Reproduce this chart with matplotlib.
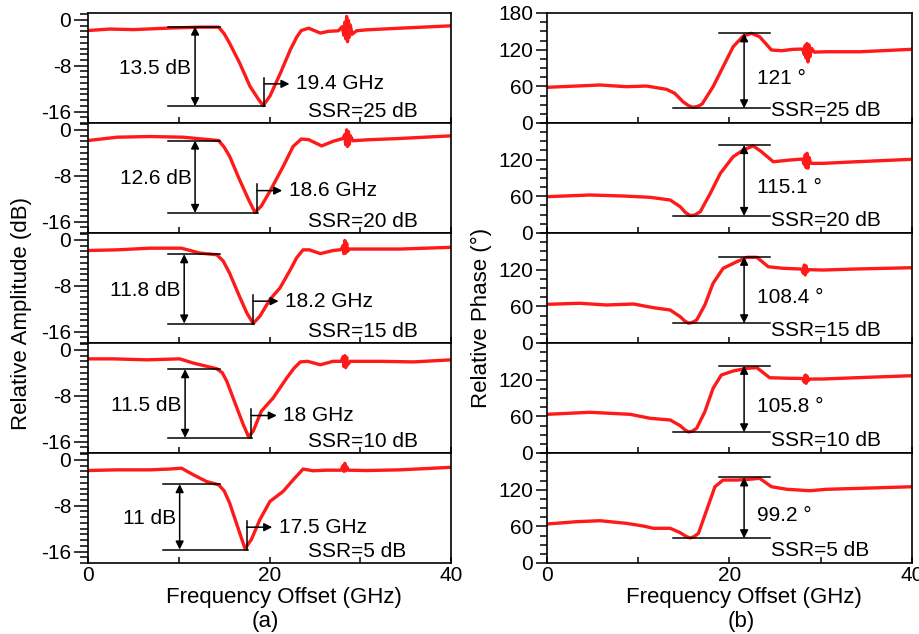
import matplotlib
matplotlib.use("Agg")
import matplotlib.pyplot as plt
from matplotlib.ticker import MultipleLocator

plt.rcParams["font.family"] = ["Liberation Sans", "DejaVu Sans"]
plt.rcParams["font.size"] = 15
plt.rcParams["axes.unicode_minus"] = False

ssr_db = [25, 20, 15, 10, 5]

# (a) relative amplitude traces (GHz, dB)
amp25_f = [0, 2.4, 5, 8.7, 12.3, 14.4, 15.0, 15.6, 16.7, 17.85, 18.8, 19.3, 20.05, 21.2, 22.3, 23.0, 23.5, 24.3,
           25.6, 26.5, 27.6, 28.0, 28.2, 28.3, 28.4, 28.5, 28.6, 28.7, 28.8, 28.9, 29.1, 29.6, 30.7, 34.4, 40]
amp25_db = [-1.86, -1.6, -1.7, -1.45, -1.27, -1.27, -2.4, -4.06, -7.5, -11.6, -13.9, -14.96, -13.3, -9.3, -5.2,
            -3.0, -1.86, -1.45, -2.3, -2.0, -1.9, -1.2, -2.7, -0.4, -3.3, 0.6, -3.8, -0.1, -3.0, -0.9, -2.5, -1.9,
            -1.74, -1.45, -1.04]
amp20_f = [0, 3.2, 6.8, 10.5, 14.4, 15.0, 15.6, 16.7, 17.7, 18.4, 19.1, 20.05, 21.5, 22.6, 23.5, 24.3, 25.75, 27.0,
           28.1, 28.3, 28.4, 28.5, 28.6, 28.7, 28.8, 28.9, 29.2, 30.7, 34.4, 40]
amp20_db = [-1.86, -1.28, -1.16, -1.28, -1.86, -3.0, -4.6, -8.7, -12.2, -14.4, -13.3, -10.7, -6.4, -2.9, -1.6,
            -1.7, -2.8, -2.0, -1.5, -0.8, -2.6, 0.0, -2.9, -0.3, -2.5, -1.0, -1.9, -1.74, -1.5, -1.04]
amp15_f = [0, 3.2, 6.8, 10.3, 12.3, 14.2, 14.9, 15.6, 16.7, 17.5, 18.2, 18.95, 20.05, 21.15, 22.3, 23.0, 23.7, 24.4,
           25.6, 27.0, 27.9, 28.1, 28.2, 28.3, 28.4, 28.5, 28.6, 28.8, 30.7, 34.4, 40]
amp15_db = [-1.86, -1.74, -1.45, -1.45, -2.3, -2.6, -3.7, -5.8, -9.9, -12.75, -14.6, -13.3, -10.4, -8.4, -5.2,
            -3.1, -1.74, -1.74, -2.4, -1.86, -1.7, -1.0, -2.4, -0.1, -2.3, -0.6, -2.0, -1.6, -1.6, -1.6, -1.3]
amp10_f = [0, 2.8, 6.5, 10.1, 11.6, 14.2, 14.8, 15.3, 16.4, 17.1, 17.7, 18.2, 19.1, 20.4, 21.9, 22.7, 23.4, 24.2,
           25.6, 27.0, 27.9, 28.1, 28.2, 28.3, 28.4, 28.5, 28.6, 28.9, 32.2, 35.9, 40]
amp10_db = [-1.57, -1.57, -1.74, -1.57, -2.3, -3.3, -4.0, -5.5, -10.1, -13.0, -15.2, -14.2, -10.7, -8.4, -4.9,
            -3.2, -2.1, -2.0, -2.6, -2.0, -2.0, -1.2, -2.9, -1.0, -3.1, -1.3, -2.6, -2.0, -2.0, -2.1, -1.74]
amp5_f = [0, 3.2, 6.8, 9.0, 10.3, 11.6, 13.1, 14.4, 15.0, 15.6, 16.6, 17.3, 18.0, 18.95, 20.05, 21.5, 22.6, 23.7,
          24.8, 26.3, 27.9, 28.1, 28.2, 28.3, 28.4, 28.5, 28.7, 30.7, 34.4, 40]
amp5_db = [-1.86, -1.74, -1.74, -1.6, -1.45, -2.6, -3.8, -4.35, -5.4, -7.5, -12.2, -15.5, -13.9, -10.4, -7.25,
           -5.5, -3.5, -1.6, -1.9, -1.8, -1.8, -1.0, -2.0, -0.6, -1.9, -1.2, -1.8, -1.86, -1.74, -1.3]

# (b) relative phase traces (GHz, degree)
ph25_f = [0, 3.25, 5.8, 8.7, 10.9, 13.1, 14.0, 14.9, 15.5, 16.0, 16.5, 17.0, 18.2, 19.3, 20.4, 21.5, 22.4, 23.3,
          24.6, 25.7, 27.0, 28.0, 28.2, 28.3, 28.4, 28.5, 28.6, 28.7, 28.8, 29.0, 29.3, 30.65, 34.3, 40]
ph25_deg = [58.4, 60.5, 62.2, 59.4, 60.5, 55.1, 48.6, 34.9, 28.5, 25.7, 27, 31.1, 59.4, 92.1, 124.8, 142.3, 146.8,
            141.2, 119.4, 118.3, 120.6, 121, 112, 127, 106, 130, 100, 128, 108, 122, 116, 116.6, 116.6, 120.6]
ph20_f = [0, 4.7, 8.4, 11.3, 13.5, 14.6, 15.2, 15.7, 16.2, 16.8, 17.9, 19.0, 20.4, 21.5, 22.6, 23.5, 24.8, 26.6,
          28.0, 28.2, 28.3, 28.4, 28.5, 28.6, 28.7, 28.9, 30.3, 33.9, 40]
ph20_deg = [59.4, 62.2, 60.5, 58.4, 54, 43, 33, 28.5, 29.5, 34.9, 65, 97.7, 124.8, 135.8, 142.5, 133, 116.6, 119.4,
            121, 112, 128, 107, 130.4, 106, 124, 114, 114, 116.6, 120.6]
ph15_f = [0, 3.6, 6.5, 9.5, 11.65, 13.5, 14.6, 15.1, 15.5, 15.9, 16.4, 17.3, 18.2, 19.3, 20.8, 21.9, 23.0, 24.25,
          25.9, 27.9, 28.1, 28.2, 28.3, 28.4, 28.5, 28.7, 30.3, 33.9, 40]
ph15_deg = [63.3, 65, 62.2, 63.8, 57.8, 54, 43, 36, 32.5, 33.5, 37.6, 62.2, 97.7, 122.2, 133, 140.2, 140.2, 124.8,
            122.2, 121, 114, 127.6, 111.3, 126, 116, 120, 119.4, 121.1, 123.2]
ph10_f = [0, 4.7, 9.1, 11.3, 13.5, 14.6, 15.1, 15.5, 15.9, 16.4, 17.3, 18.2, 19.1, 20.4, 21.9, 23.0, 24.4, 26.6,
          28.0, 28.2, 28.3, 28.4, 28.5, 28.6, 28.8, 30.3, 33.9, 40]
ph10_deg = [63.3, 66.6, 63.3, 56.8, 54, 44.7, 38, 34.5, 35.5, 40.4, 67.6, 105.8, 127.6, 134.2, 138.6, 139.6,
            123.2, 122.2, 122, 116, 127.6, 114, 126, 118, 121, 121.1, 123.2, 126.5]
ph5_f = [0, 3.25, 5.8, 8.7, 10.55, 11.65, 13.5, 14.6, 15.3, 15.7, 16.1, 16.6, 17.5, 18.4, 19.3, 20.8, 22.2, 23.3,
         24.6, 26.3, 28.8, 30.65, 34.3, 40]
ph5_deg = [63.8, 67.6, 69.2, 64.9, 60.5, 56.8, 56.8, 49.6, 43, 41, 43, 48.6, 86.7, 124.8, 135.8, 135.8, 137,
           138.6, 124.8, 120.6, 118.3, 120.6, 122.2, 124.8]

# annotations
notch_depth = ["13.5 dB", "12.6 dB", "11.8 dB", "11.5 dB", "11 dB"]
notch_ghz = [19.4, 18.6, 18.2, 18.0, 17.5]
amp_top = [-1.16, -1.86, -2.5, -3.36, -4.23]
amp_bottom = [-15.07, -14.5, -14.6, -15.36, -15.65]
phase_shift = [121, 115.1, 108.4, 105.8, 99.2]
phase_top = [146.8, 144, 141.2, 142.8, 140.2]
phase_bottom = [24.0, 27.8, 32.2, 33.8, 40.4]

amp_f = [amp25_f, amp20_f, amp15_f, amp10_f, amp5_f]
amp_db = [amp25_db, amp20_db, amp15_db, amp10_db, amp5_db]
ph_f = [ph25_f, ph20_f, ph15_f, ph10_f, ph5_f]
ph_deg = [ph25_deg, ph20_deg, ph15_deg, ph10_deg, ph5_deg]

# layout (pixels)
W, H = 920, 634
arrow_x = [11.8, 11.8, 10.6, 10.7, 10.1]
line_x0 = [8.85, 8.85, 8.85, 8.85, 8.3]

fig = plt.figure(figsize=(9.2, 6.34), dpi=100)


def add_px_axes(x0, y0, x1, y1):
    return fig.add_axes([x0 / W, 1 - y1 / H, (x1 - x0) / W, (y1 - y0) / H])


def style(ax, last):
    for s in ax.spines.values():
        s.set_linewidth(1.2)
    ax.set_xlim(0, 40)
    ax.set_xticks([0, 20, 40])
    ax.xaxis.set_minor_locator(MultipleLocator(10))
    ax.tick_params(axis="x", which="both", direction="in", length=4, width=1.1, pad=2)
    if not last:
        ax.tick_params(axis="x", labelbottom=False)
    ax.tick_params(axis="y", which="major", direction="out", length=10, width=1.1, pad=2)
    ax.tick_params(axis="y", which="minor", direction="out", length=6, width=1.1)


red = "#ff1a1a"
black = dict(color="k", lw=1.1)
dbl = dict(arrowstyle="<|-|>", color="k", lw=1.1, mutation_scale=12, shrinkA=0, shrinkB=0)
one = dict(arrowstyle="-|>", color="k", lw=1.1, mutation_scale=12, shrinkA=0, shrinkB=0)

for k in range(5):
    top = 13 + 110 * k
    bot = top + 110

    # amplitude
    ax = add_px_axes(88, top, 451, bot)
    ax.plot(amp_f[k], amp_db[k], color=red, lw=2.4, solid_joinstyle="round")
    ax.set_ylim(-18, 1.2)
    ax.set_yticks([0, -8, -16])
    ax.yaxis.set_minor_locator(MultipleLocator(1))
    style(ax, k == 4)
    t, b, xa = amp_top[k], amp_bottom[k], arrow_x[k]
    ax.plot([line_x0[k], 14.5], [t, t], **black)
    ax.plot([line_x0[k], notch_ghz[k] + 0.1], [b, b], **black)
    ax.annotate("", xy=(xa, t), xytext=(xa, b), arrowprops=dbl)
    ax.text(xa - 0.4, (t + b) / 2 - 0.3, notch_depth[k], ha="right", va="center")
    fn = notch_ghz[k]
    ax.plot([fn, fn], [b, b + 5], **black)
    ax.annotate("", xy=(fn + 2.8, b + 3.9), xytext=(fn, b + 3.9), arrowprops=one)
    ax.text(fn + 3.5, b + 3.9, "%g GHz" % fn, ha="left", va="center")
    ax.text(24.2, -16, "SSR=%d dB" % ssr_db[k], ha="left", va="center")

    # phase
    ax = add_px_axes(547, top, 912, bot)
    ax.plot(ph_f[k], ph_deg[k], color=red, lw=2.4, solid_joinstyle="round")
    ax.set_ylim(0, 180)
    ax.set_yticks([0, 60, 120, 180] if k == 0 else [0, 60, 120])
    ax.yaxis.set_minor_locator(MultipleLocator(15))
    style(ax, k == 4)
    ax.tick_params(axis="y", which="major", length=8)
    ax.tick_params(axis="y", which="minor", length=5)
    t, b = phase_top[k], phase_bottom[k]
    ax.plot([18.8, 24.4], [t, t], **black)
    ax.plot([13.85, 24.4], [b, b], **black)
    ax.annotate("", xy=(21.6, t), xytext=(21.6, b), arrowprops=dbl)
    ax.text(23.0, (t + b) / 2 - 12, "%g \u00b0" % phase_shift[k], ha="left", va="center")
    ax.text(24.5, 21, "SSR=%d dB" % ssr_db[k], ha="left", va="center")

fig.text(22 / W, 1 - 313 / H, "Relative Amplitude (dB)", rotation=90, ha="center", va="center", fontsize=16)
fig.text(481 / W, 1 - 318 / H, "Relative Phase (\u00b0)", rotation=90, ha="center", va="center", fontsize=16)
fig.text(284 / W, 1 - 597 / H, "Frequency Offset (GHz)", ha="center", va="center", fontsize=16)
fig.text(744 / W, 1 - 597 / H, "Frequency Offset (GHz)", ha="center", va="center", fontsize=16)
fig.text(265 / W, 1 - 621 / H, "(a)", ha="center", va="center", fontsize=16)
fig.text(741 / W, 1 - 621 / H, "(b)", ha="center", va="center", fontsize=16)

fig.savefig("out.png", dpi=100)
